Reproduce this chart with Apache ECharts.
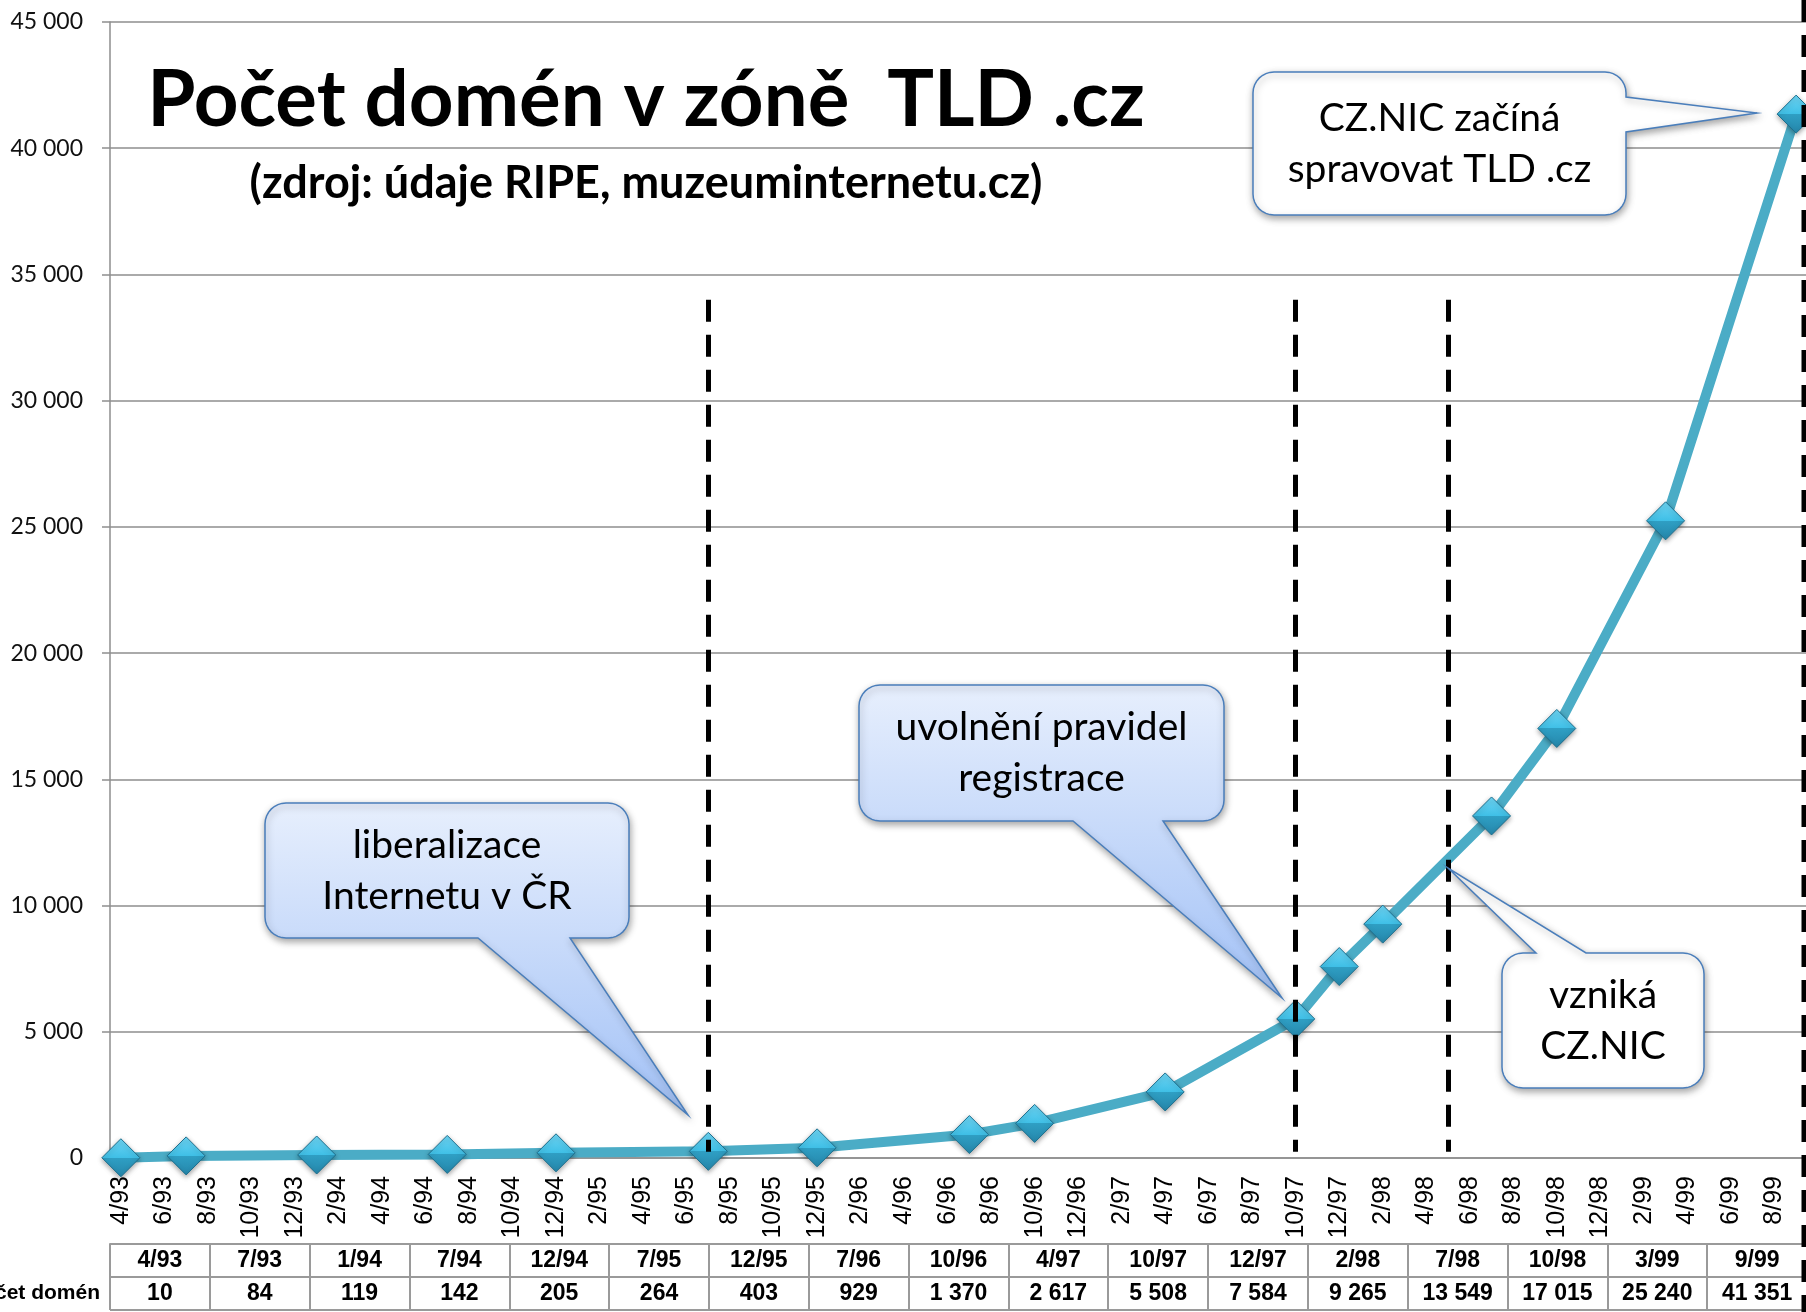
<!DOCTYPE html>
<html lang="cs">
<head>
<meta charset="UTF-8">
<title>Počet domén v zóně TLD .cz</title>
<script src="https://cdn.jsdelivr.net/npm/echarts@6/dist/echarts.min.js"></script>
<style>
  html, body { margin: 0; padding: 0; background: #fff; }
  #main { width: 1806px; height: 1312px; }
</style>
</head>
<body>
<div id="main"></div>
<script>
// hodnoty z tabulky pod grafem
var dates = ['4/93', '7/93', '1/94', '7/94', '12/94', '7/95', '12/95', '7/96', '10/96',
             '4/97', '10/97', '12/97', '2/98', '7/98', '10/98', '3/99', '9/99'];
var domains = [10, 84, 119, 142, 205, 264, 403, 929, 1370,
               2617, 5508, 7584, 9265, 13549, 17015, 25240, 41351];
var rowHeader = ['', 'Počet domén'];

// osa y
var yMin = 0, yMax = 45000, yStep = 5000;
// osa x: jeden sloupec na mesic
var firstMonth = [1993, 4], lastMonth = [1999, 9];
// svisle carkovane cary
var dashedAt = ['7/95', '10/97', '5/98'];
var dashedTop = 34000, dashedBottom = 250;

var months = [];
(function () {
  var y = firstMonth[0], m = firstMonth[1];
  while (y < lastMonth[0] || (y === lastMonth[0] && m <= lastMonth[1])) {
    months.push(m + '/' + String(y).slice(2));
    m++;
    if (m > 12) { m = 1; y++; }
  }
})();

function fmt(n) {
  return String(n).replace(/\B(?=(\d{3})+(?!\d))/g, ' ');
}

var arial = '"Liberation Sans", Arial, sans-serif';
var calibri = 'Lato, "Open Sans", sans-serif';
var gridGray = '#8e8e8e';
var tableGray = '#9a9a9a';

// bubliny s popisky (rozvrzeni, ne data)
var callouts = [
  { box: [265, 803, 629, 938], side: 'bottom', base: [478, 570], tip: [688, 1115], blue: true,
    text: 'liberalizace\nInternetu v ČR' },
  { box: [859, 685, 1224, 821], side: 'bottom', base: [1073, 1163], tip: [1282, 998], blue: true,
    text: 'uvolnění pravidel\nregistrace' },
  { box: [1502, 953, 1704, 1088], side: 'top', base: [1536, 1586], tip: [1448, 868], blue: false,
    text: 'vzniká\nCZ.NIC' },
  { box: [1253, 72, 1626, 215], side: 'right', base: [97, 132], tip: [1757, 113], blue: false,
    text: 'CZ.NIC začíná\nspravovat TLD .cz' }
];

function arcPts(cx, cy, r, a0, a1) {
  var pts = [];
  for (var k = 0; k <= 8; k++) {
    var a = (a0 + (a1 - a0) * k / 8) * Math.PI / 180;
    pts.push([cx + r * Math.cos(a), cy + r * Math.sin(a)]);
  }
  return pts;
}

function bubblePoints(c, r) {
  var x0 = c.box[0], y0 = c.box[1], x1 = c.box[2], y1 = c.box[3];
  var p = arcPts(x0 + r, y0 + r, r, 180, 270);
  if (c.side === 'top') p.push([c.base[0], y0], c.tip, [c.base[1], y0]);
  p = p.concat(arcPts(x1 - r, y0 + r, r, 270, 360));
  if (c.side === 'right') p.push([x1, c.base[0]], c.tip, [x1, c.base[1]]);
  p = p.concat(arcPts(x1 - r, y1 - r, r, 0, 90));
  if (c.side === 'bottom') p.push([c.base[1], y1], c.tip, [c.base[0], y1]);
  p = p.concat(arcPts(x0 + r, y1 - r, r, 90, 180));
  return p;
}

var graphics = [];
callouts.forEach(function (c) {
  var fill = c.blue
    ? new echarts.graphic.LinearGradient(0, 0, 0, 1, [
        { offset: 0, color: '#e7effd' },
        { offset: 1, color: '#a2c1f6' }])
    : '#ffffff';
  graphics.push({
    type: 'polygon',
    z: 100,
    shape: { points: bubblePoints(c, 21) },
    style: {
      fill: fill, stroke: '#4a7ebb', lineWidth: 1.5,
      shadowBlur: 7, shadowColor: 'rgba(0,0,0,0.35)', shadowOffsetX: 1, shadowOffsetY: 3
    }
  });
  graphics.push({
    type: 'text',
    z: 101,
    x: (c.box[0] + c.box[2]) / 2,
    y: (c.box[1] + c.box[3]) / 2,
    style: {
      text: c.text, font: '39px ' + calibri, fill: '#000', lineHeight: 51,
      align: 'center', verticalAlign: 'middle',
      textAlign: 'center', textVerticalAlign: 'middle'
    }
  });
});

graphics.push({
  type: 'text', z: 100, x: 646, y: 101,
  style: {
    text: 'Počet domén v zóně  TLD .cz', font: 'bold 78px ' + calibri, fill: '#000',
    align: 'center', verticalAlign: 'middle', textAlign: 'center', textVerticalAlign: 'middle'
  }
});
graphics.push({
  type: 'text', z: 100, x: 646, y: 183,
  style: {
    text: '(zdroj: údaje RIPE, muzeuminternetu.cz)', font: 'bold 45px ' + calibri, fill: '#000',
    align: 'center', verticalAlign: 'middle', textAlign: 'center', textVerticalAlign: 'middle'
  }
});
// carkovana cara na pravem okraji
graphics.push({
  type: 'line', z: 50,
  shape: { x1: 1804, y1: 0, x2: 1804, y2: 1312 },
  style: { stroke: '#000', lineWidth: 5, lineDash: [22, 13] }
});

var diamondFill = new echarts.graphic.LinearGradient(0, 0, 0, 1, [
  { offset: 0, color: '#6fd6f5' },
  { offset: 0.5, color: '#3fbfe6' },
  { offset: 0.5, color: '#2f9fc4' },
  { offset: 1, color: '#2586aa' }
]);

var option = {
  animation: false,
  backgroundColor: '#fff',
  grid: [
    { left: 110, top: 22, width: 1697, height: 1136, containLabel: false, outerBoundsMode: 'none' },
    { left: 110, top: 1244, width: 1697, height: 66, containLabel: false, outerBoundsMode: 'none' }
  ],
  xAxis: [
    {
      type: 'category', gridIndex: 0, data: months, boundaryGap: true,
      axisLine: { lineStyle: { color: gridGray, width: 1.5 } },
      axisTick: { interval: 1, length: 8, lineStyle: { color: gridGray, width: 1.5 } },
      axisLabel: { interval: 1, rotate: 90, margin: 18, fontFamily: arial, fontSize: 25, color: '#000' },
      splitLine: { show: false }
    },
    {
      type: 'category', gridIndex: 1, data: dates, position: 'top',
      axisLine: { lineStyle: { color: tableGray, width: 2 } },
      axisTick: { show: false },
      axisLabel: { inside: true, interval: 0, margin: 5, fontFamily: arial, fontWeight: 'bold',
                   fontSize: 23, color: '#000' },
      splitLine: { show: true, interval: 0, lineStyle: { color: tableGray, width: 2 } }
    },
    {
      type: 'category', gridIndex: 1, data: domains.map(fmt), position: 'bottom',
      axisLine: { show: false }, axisTick: { show: false },
      axisLabel: { inside: true, interval: 0, margin: 5, fontFamily: arial, fontWeight: 'bold',
                   fontSize: 23, color: '#000' },
      splitLine: { show: false }
    }
  ],
  yAxis: [
    {
      type: 'value', gridIndex: 0, min: yMin, max: yMax, interval: yStep,
      axisLine: { show: true, lineStyle: { color: gridGray, width: 1.5 } },
      axisTick: { show: true, length: 8, lineStyle: { color: gridGray, width: 1.5 } },
      axisLabel: { formatter: fmt, fontFamily: calibri, fontSize: 23, color: '#111', margin: 27 },
      splitLine: { lineStyle: { color: gridGray, width: 1.5 } }
    },
    {
      type: 'category', gridIndex: 1, position: 'left', inverse: true, data: rowHeader,
      axisLine: { show: false }, axisTick: { show: false },
      axisLabel: { interval: 0, fontFamily: arial, fontWeight: 'bold', fontSize: 21, color: '#000', margin: 10 },
      splitLine: { show: true, interval: 0, lineStyle: { color: tableGray, width: 2 } }
    }
  ],
  series: [
    {
      type: 'line', xAxisIndex: 0, yAxisIndex: 0,
      data: dates.map(function (d, i) { return [d, domains[i]]; }),
      symbol: 'diamond', symbolSize: 38, showAllSymbol: true,
      lineStyle: { color: '#4bacc6', width: 10 },
      itemStyle: {
        color: diamondFill, borderColor: '#1d6f8e', borderWidth: 1,
        shadowBlur: 5, shadowColor: 'rgba(0,0,0,0.35)', shadowOffsetY: 2
      },
      emphasis: { disabled: true },
      z: 3,
      markLine: {
        silent: true, symbol: 'none', label: { show: false },
        lineStyle: { color: '#000', width: 5, type: [22, 13], shadowBlur: 0 },
        emphasis: { disabled: true },
        data: dashedAt.map(function (d) {
          return [{ coord: [d, dashedTop] }, { coord: [d, dashedBottom] }];
        })
      }
    }
  ],
  graphic: graphics
};

var myChart = echarts.init(document.getElementById('main'));
myChart.setOption(option);
</script>
</body>
</html>
